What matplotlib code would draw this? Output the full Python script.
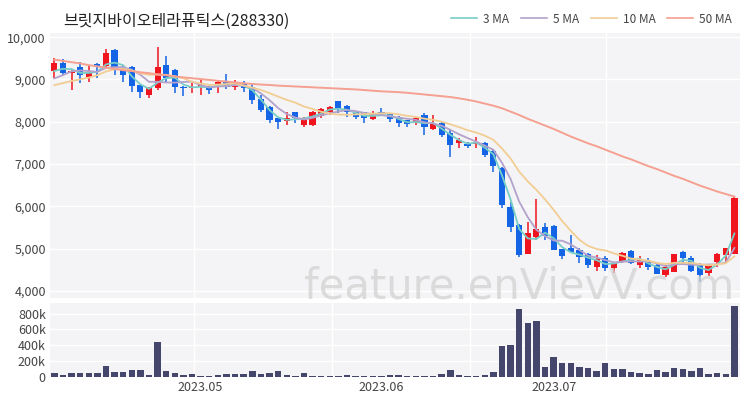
import matplotlib
matplotlib.use('Agg')
import matplotlib.pyplot as plt
from matplotlib.lines import Line2D
import numpy as np
import pandas as pd

plt.rcParams['font.family'] = ['Noto Sans CJK KR', 'DejaVu Sans']

title = '브릿지바이오테라퓨틱스(288330)'

# daily candles (80 trading days)
opens = [9204, 9379, 9157, 9284, 9062, 9355, 9315, 9693, 9237, 9299,
         8866, 8630, 8788, 9339, 9221, 8826, 8788, 8812, 8826, 8890,
         8960, 8826, 8906, 8826, 8528, 8354, 8080, 8023, 8221, 7921,
         7921, 8134, 8236, 8488, 8378, 8236, 8221, 8056, 8221, 8198,
         8118, 8040, 7962, 8158, 7820, 7962, 7725, 7489, 7473, 7473,
         7504, 7307, 6899, 5977, 5560, 4874, 5269, 5519, 5536, 4986,
         5009, 4969, 4874, 4560, 4773, 4536, 4693, 4953, 4614, 4693,
         4614, 4378, 4457, 4929, 4773, 4614, 4433, 4693, 4851, 4874]
highs = [9497, 9473, 9237, 9417, 9315, 9379, 9733, 9710, 9339, 9315,
         8880, 8826, 9771, 9551, 9237, 8840, 8921, 9001, 8840, 8960,
         9126, 8990, 8960, 8906, 8630, 8370, 8100, 8236, 8230, 8103,
         8250, 8330, 8370, 8500, 8390, 8250, 8235, 8260, 8330, 8210,
         8130, 8050, 8110, 8198, 8158, 8000, 7803, 7607, 7527, 7630,
         7520, 7320, 6920, 6111, 5575, 5638, 6166, 5614, 5550, 5000,
         5331, 5009, 4890, 4851, 4827, 4693, 4930, 4965, 4827, 4773,
         4625, 4614, 4880, 4940, 4827, 4655, 4638, 4891, 5009, 6228]
lows = [9024, 9102, 8748, 8921, 8944, 9024, 9284, 9102, 8944, 8708,
        8552, 8567, 8748, 8944, 8670, 8606, 8684, 8630, 8654, 8670,
        8780, 8760, 8700, 8418, 8236, 7962, 7830, 7921, 7976, 7881,
        7910, 8100, 8170, 8198, 8103, 8056, 7962, 8030, 8134, 8000,
        7881, 7867, 7920, 7685, 7800, 7630, 7173, 7371, 7371, 7371,
        7158, 6818, 5954, 5401, 4811, 4860, 5205, 5205, 4969, 4749,
        4891, 4655, 4536, 4480, 4480, 4433, 4655, 4640, 4536, 4497,
        4402, 4324, 4450, 4614, 4457, 4197, 4339, 4575, 4669, 4874]
closes = [9379, 9157, 9204, 9102, 9157, 9284, 9629, 9284, 9102, 8843,
          8708, 8788, 9284, 9024, 8826, 8788, 8826, 8866, 8748, 8944,
          8830, 8944, 8788, 8512, 8276, 8040, 8000, 8094, 8080, 8056,
          8236, 8292, 8339, 8292, 8220, 8118, 8080, 8212, 8174, 8063,
          7962, 7938, 8080, 7881, 7945, 7685, 7449, 7567, 7426, 7527,
          7213, 6953, 6032, 5505, 4852, 5363, 5465, 5300, 4969, 4827,
          4929, 4811, 4614, 4749, 4536, 4655, 4891, 4655, 4733, 4560,
          4402, 4560, 4874, 4773, 4480, 4378, 4614, 4874, 5009, 6190]
volumes = [43e3, 26e3, 47e3, 47e3, 47e3, 52e3, 138e3, 60e3, 60e3, 90e3,
           82e3, 26e3, 439e3, 77e3, 52e3, 26e3, 34e3, 9e3, 9e3, 26e3,
           30e3, 34e3, 39e3, 69e3, 34e3, 43e3, 69e3, 26e3, 5e3, 43e3,
           13e3, 13e3, 13e3, 13e3, 22e3, 13e3, 13e3, 13e3, 13e3, 22e3,
           22e3, 9e3, 9e3, 13e3, 9e3, 34e3, 86e3, 22e3, 9e3, 9e3,
           22e3, 65e3, 396e3, 404e3, 860e3, 684e3, 710e3, 125e3, 254e3, 181e3,
           177e3, 129e3, 116e3, 73e3, 177e3, 103e3, 99e3, 60e3, 43e3, 39e3,
           82e3, 65e3, 116e3, 95e3, 69e3, 108e3, 39e3, 43e3, 39e3, 903e3]
# closes before the visible window (estimated so the short averages start right)
prev_closes = [8680, 8700, 8720, 8730, 8710, 8760, 8760, 9000, 9221]
# 50-day average as drawn (its history lies outside the window)
ma50 = [9470, 9440, 9410, 9380, 9340, 9310, 9280, 9250, 9220, 9200,
        9170, 9150, 9120, 9100, 9070, 9050, 9030, 9010, 8990, 8970,
        8950, 8930, 8910, 8895, 8880, 8870, 8855, 8845, 8835, 8825,
        8815, 8805, 8795, 8785, 8775, 8765, 8750, 8735, 8720, 8710,
        8700, 8685, 8665, 8645, 8625, 8605, 8585, 8555, 8520, 8480,
        8430, 8380, 8320, 8240, 8160, 8070, 7990, 7910, 7830, 7740,
        7650, 7570, 7490, 7420, 7340, 7260, 7180, 7110, 7030, 6950,
        6880, 6800, 6720, 6650, 6570, 6490, 6420, 6350, 6290, 6230]
month_pos = [17, 38, 58]
month_labels = ['2023.05', '2023.06', '2023.07']

up_col = '#f0141e'
down_col = '#1464e6'
ma_cols = {'3 MA': '#78cec6', '5 MA': '#b3a2cb', '10 MA': '#f2cd93', '50 MA': '#f5a090'}
panel_bg = '#f4f4f6'
txt_col = '#444444'

n = len(closes)
x = np.arange(n)
allc = pd.Series(prev_closes + closes)
k = len(prev_closes)
ma3 = allc.rolling(3).mean().values[k:]
ma5 = allc.rolling(5).mean().values[k:]
ma10 = allc.rolling(10).mean().values[k:]

fig = plt.figure(figsize=(7.5, 4), dpi=100)
ax = fig.add_axes([50/750, 1-298/400, 690/750, 265/400])
vax = fig.add_axes([50/750, 1-378/400, 690/750, 75/400])

for a in (ax, vax):
    a.set_facecolor(panel_bg)
    for s in a.spines.values():
        s.set_visible(False)
    a.set_xlim(-0.5, 79.65)
    a.grid(True, color='white', lw=1.0)
    a.set_axisbelow(True)
    a.tick_params(length=0, labelsize=9, labelcolor=txt_col, pad=3)

# candles
for i in range(n):
    o, h, l, c = opens[i], highs[i], lows[i], closes[i]
    col = up_col if c >= o else down_col
    ax.vlines(x[i], l, h, color=col, lw=1.1, zorder=3)
    body = max(abs(c - o), 18)
    ax.bar(x[i], body, bottom=min(o, c), width=0.72, color=col, zorder=3)

ax.plot(x, ma3, color=ma_cols['3 MA'], lw=1.3, zorder=4)
ax.plot(x, ma5, color=ma_cols['5 MA'], lw=1.3, zorder=4)
ax.plot(x, ma10, color=ma_cols['10 MA'], lw=1.3, zorder=4)
ax.plot(x, ma50, color=ma_cols['50 MA'], lw=1.4, zorder=4)

ax.set_ylim(3830, 10100)
ax.set_yticks(range(4000, 10001, 1000))
ax.set_yticklabels([f'{v:,}' for v in range(4000, 10001, 1000)])
ax.set_xticks([16.2, 32.2, 48.3, 64.1])
ax.set_xticklabels([])

# volume
vax.bar(x, volumes, width=0.75, color='#45466b', zorder=3)
vax.set_ylim(-15000, 935000)
vax.set_yticks([0, 200000, 400000, 600000, 800000])
vax.set_yticklabels(['0', '200k', '400k', '600k', '800k'])
vax.set_xticks(month_pos)
vax.set_xticklabels(month_labels)
vax.tick_params(axis='x', pad=2)
for xv in [16.2, 32.2, 48.3, 64.1]:
    vax.axvline(xv, color='white', lw=1.0, zorder=0.5)
vax.xaxis.grid(False)
vax.set_zorder(2)

# watermark
vax.text(0.68, 1.22, 'feature.enVievV.com', transform=vax.transAxes,
         ha='center', va='center', fontsize=30, color='#d2d2d2', alpha=0.75,
         family='DejaVu Sans', zorder=1, clip_on=False)

fig.text(63/750, 1-21/400, title, fontsize=11.5, ha='left', va='center', color='#222222')

handles = [Line2D([0], [0], color=cl, lw=1.2) for cl in ma_cols.values()]
leg = fig.legend(handles, list(ma_cols.keys()), loc='upper right',
                 bbox_to_anchor=(0.99, 0.995), ncol=4, frameon=False, fontsize=8.5,
                 handlelength=2.2, columnspacing=1.0, handletextpad=0.5)
for t in leg.get_texts():
    t.set_color(txt_col)

fig.savefig('out.png', dpi=100)
